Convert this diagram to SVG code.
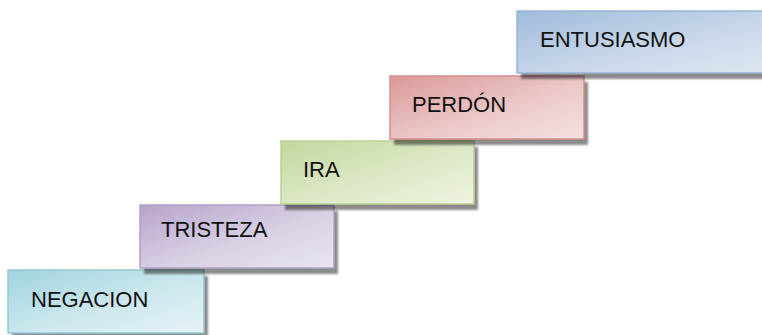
<svg xmlns="http://www.w3.org/2000/svg" width="762" height="335" viewBox="0 0 762 335">
<style>
  .lbl { font-family: "Liberation Sans", Arial, sans-serif; font-size: 22px; fill: #111; }
  .shadow { fill: #000; opacity: 0.45; filter: url(#blur); }
</style>
<defs>
  <filter id="blur" x="-5%" y="-10%" width="110%" height="130%"><feGaussianBlur stdDeviation="0.8"/></filter>
  <linearGradient id="gCyan" x1="0" y1="0" x2="1" y2="1">
    <stop offset="0" stop-color="#a0d4df"/><stop offset="0.55" stop-color="#cde8ee"/><stop offset="1" stop-color="#e6f3f6"/>
  </linearGradient>
  <linearGradient id="gPurple" x1="0" y1="0" x2="1" y2="1">
    <stop offset="0" stop-color="#b6a4cb"/><stop offset="0.55" stop-color="#d9d0e4"/><stop offset="1" stop-color="#ebe6f1"/>
  </linearGradient>
  <linearGradient id="gGreen" x1="0" y1="0" x2="1" y2="1">
    <stop offset="0" stop-color="#c3d79d"/><stop offset="0.55" stop-color="#dde9c7"/><stop offset="1" stop-color="#eef4e2"/>
  </linearGradient>
  <linearGradient id="gRed" x1="0" y1="0" x2="1" y2="1">
    <stop offset="0" stop-color="#da9998"/><stop offset="0.55" stop-color="#ecc8c8"/><stop offset="1" stop-color="#f5e1e1"/>
  </linearGradient>
  <linearGradient id="gBlue" x1="0" y1="0" x2="1" y2="1">
    <stop offset="0" stop-color="#a0bbdb"/><stop offset="0.55" stop-color="#c8d7ea"/><stop offset="1" stop-color="#dfe8f3"/>
  </linearGradient>
</defs>
<g id="negacion">
  <rect class="shadow" x="12" y="276" width="196" height="63"/>
  <rect x="8" y="270" width="196" height="63" fill="url(#gCyan)" stroke="#93c9d5" stroke-width="1.5"/>
  <text class="lbl" x="31" y="307">NEGACION</text>
</g>
<g id="tristeza">
  <rect class="shadow" x="144" y="211" width="194" height="63"/>
  <rect x="140" y="205" width="194" height="63" fill="url(#gPurple)" stroke="#b1a0c6" stroke-width="1.5"/>
  <text class="lbl" x="161" y="237">TRISTEZA</text>
</g>
<g id="ira">
  <rect class="shadow" x="285" y="147" width="193" height="63"/>
  <rect x="281" y="141" width="193" height="63" fill="url(#gGreen)" stroke="#bcd292" stroke-width="1.5"/>
  <text class="lbl" x="303" y="177">IRA</text>
</g>
<g id="perdon">
  <rect class="shadow" x="394" y="82" width="194" height="63"/>
  <rect x="390" y="76" width="194" height="63" fill="url(#gRed)" stroke="#d58f8e" stroke-width="1.5"/>
  <text class="lbl" x="412" y="112">PERDÓN</text>
</g>
<g id="entusiasmo">
  <rect class="shadow" x="521" y="17" width="260" height="62"/>
  <rect x="517" y="11" width="260" height="62" fill="url(#gBlue)" stroke="#98b4d6" stroke-width="1.5"/>
  <text class="lbl" x="540" y="47">ENTUSIASMO</text>
</g>
</svg>
